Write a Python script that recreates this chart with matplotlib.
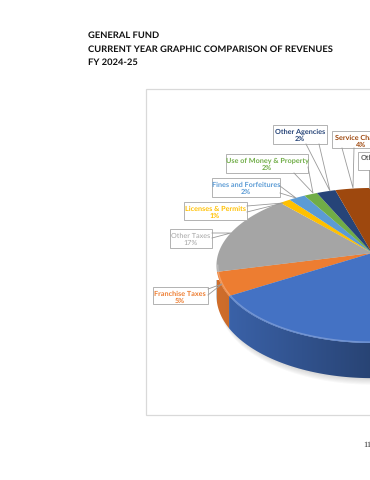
import numpy as np
import matplotlib
matplotlib.use("Agg")
import matplotlib.pyplot as plt
from matplotlib.patches import Polygon, Rectangle

plt.rcParams["text.hinting"] = "no_hinting"
plt.rcParams["text.hinting_factor"] = 8

categories = ["Franchise Taxes", "Other Taxes", "Licenses & Permits", "Fines and Forfeitures",
              "Use of Money & Property", "Other Agencies", "Service Charges", "Other", "Taxes"]
shares = [4.9, 17.2, 1.3, 2.0, 1.6, 2.3, 4.4, 2.0, 64.3]
shown = ["5%", "17%", "1%", "2%", "2%", "2%", "4%", "2%", "64%"]
colors = ["#ED7D31", "#A5A5A5", "#FFC000", "#5B9BD5", "#70AD47", "#264478", "#9E480E", "#636363", "#4472C4"]
title_lines = ["GENERAL FUND", "CURRENT YEAR GRAPHIC COMPARISON OF REVENUES", "FY 2024-25"]
START_DEG = 211.5

fig = plt.figure(figsize=(3.7, 4.8), dpi=100)
ax = fig.add_axes([0, 0, 1, 1])
ax.set_xlim(0, 370); ax.set_ylim(480, 0); ax.axis("off")

CX, CY, A, B, K, DEPTH = 372, 253, 153.5, 75.5, 0.161, 29.5

def proj(theta, r=1.0, drop=0.0):
    s = np.sin(theta) * r
    c = np.cos(theta) * r
    w = 1 + K * s
    return CX + A * c / w, CY - B * s / w + drop / w

# panel
ax.add_patch(Rectangle((146, 89), 300, 326, fc="white", ec="#D9D9D9", lw=0.9, zorder=0))

# soft shadow below the pie
t = np.linspace(0, 2 * np.pi, 300)
for i in range(7):
    x, y = proj(t, 0.985, DEPTH + 1.5 + i * 0.9)
    ax.add_patch(Polygon(np.c_[x, y], fc="#7F7F7F", ec="none", alpha=0.05, zorder=1))

edges = np.deg2rad(START_DEG - np.cumsum([0] + shares) * 3.6)

# side wall
for i, col in enumerate(colors):
    th = np.linspace(edges[i], edges[i + 1], 200)
    th = th[np.sin(th) < -K + 0.002]
    if len(th) < 2:
        continue
    x0, y0 = proj(th)
    x1, y1 = proj(th, 1.0, DEPTH)
    poly = Polygon(np.r_[np.c_[x0, y0], np.c_[x1, y1][::-1]], fc="none", ec="none", zorder=2)
    ax.add_patch(poly)
    base = np.array(matplotlib.colors.to_rgb(col))
    g = np.linspace(0.90, 0.52, 256)[None, :, None] * base[None, None, :]
    im = ax.imshow(g, extent=[205, 410, 400, 280], aspect="auto", zorder=2, interpolation="bilinear")
    im.set_clip_path(poly)
ax.set_xlim(0, 370); ax.set_ylim(480, 0)

# top face
for i, col in enumerate(colors):
    th = np.linspace(edges[i], edges[i + 1], 120)
    x, y = proj(th)
    ax.add_patch(Polygon(np.r_[[[CX, CY]], np.c_[x, y]], fc=col, ec="none", zorder=3))

# bevel highlight along the front rim
for i, col in enumerate(colors):
    th = np.linspace(edges[i], edges[i + 1], 120)
    th = th[np.sin(th) < -0.15]
    if len(th) < 2:
        continue
    x, y = proj(th, 0.992)
    light = tuple(np.array(matplotlib.colors.to_rgb(col)) * 0.75 + 0.25)
    ax.plot(x, y, color=light, lw=1.0, zorder=4, solid_capstyle="butt")

# callouts: box left, top, right, bottom, wedge start, wedge start, wedge tip, text centre
boxes = [
    (0, 153, 287, 208, 304, "#ED7D31", (208, 289), (208, 295), (222, 284), 180),
    (1, 170, 229, 212, 248, "#A5A5A5", (212, 233), (212, 238), (231, 233), 191),
    (2, 184, 202, 247, 220, "#FFC000", (247, 206), (247, 212), (283, 203), 215),
    (3, 212, 178, 280, 197, "#5B9BD5", (280, 186), (280, 193), (296, 198), 246),
    (4, 226, 154, 308, 173, "#70AD47", (294, 173), (308, 167), (313, 193), 267),
    (5, 273, 125, 327, 144, "#264478", (306, 144), (319, 144), (330, 191), 300),
    (6, 332, 131, 420, 148, "#9E480E", (342, 148), (354, 148), (353, 188), 361),
]
LINE = "#9A9A9A"
for idx, l, t_, r, b, col, p0, p1, tip, tx in boxes:
    ax.add_patch(Rectangle((l, t_), r - l, b - t_, fc="white", ec="#A6A6A6", lw=0.6, zorder=5))
    ax.plot([p0[0], tip[0], p1[0]], [p0[1], tip[1], p1[1]], color=LINE, lw=0.6, zorder=5)
    w = "normal" if idx == 1 else "bold"
    ax.text(tx, t_ + 6.5, categories[idx], fontsize=5.2, color=col, family="Lato", fontweight=w,
            ha="center", va="center", zorder=6, clip_on=True)
    ax.text(tx, t_ + 14, shown[idx], fontsize=5.2, color=col, family="Lato", fontweight=w,
            ha="center", va="center", zorder=6, clip_on=True)
# the eighth callout runs off the page
ax.add_patch(Rectangle((358, 152), 62, 18, fc="white", ec="#A6A6A6", lw=0.6, zorder=5))
ax.plot([369, 369], [170, 188], color=LINE, lw=0.6, zorder=5)
ax.text(361, 158, categories[7], fontsize=5.2, color="#636363", family="Lato", fontweight="bold",
        ha="left", va="center", zorder=6, clip_on=True)

# title
for line, y in zip(title_lines, [35, 49, 62]):
    ax.text(88, y, line, fontsize=6.76, family="Lato", fontweight="bold",
            color="#111111", ha="left", va="center")

ax.text(363, 445, "11", fontsize=6, family="Liberation Serif", color="#222222", ha="left", va="center", clip_on=True)

fig.savefig("out.png", dpi=100)
